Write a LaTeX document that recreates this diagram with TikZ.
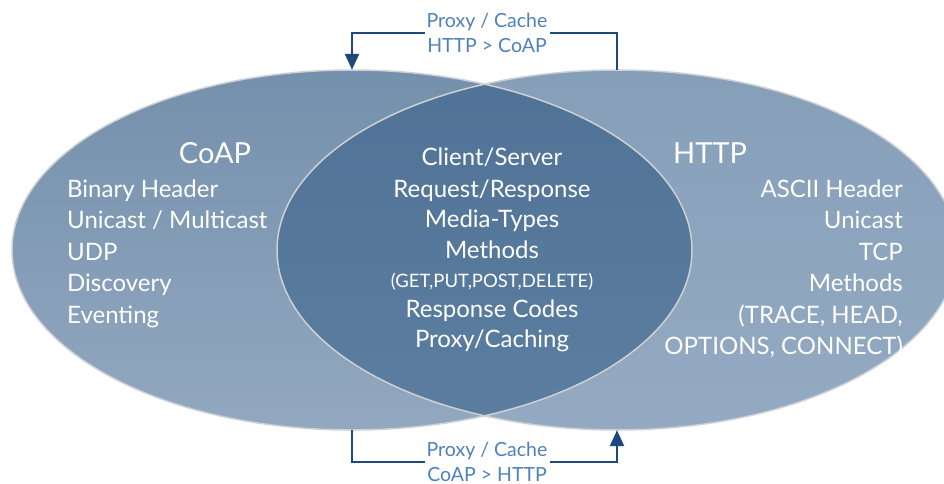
\documentclass[tikz,border=0pt]{standalone}
\usepackage{fontspec}
\setmainfont{Lato}
\usetikzlibrary{shapes.geometric,arrows.meta}

\definecolor{coapfill}{RGB}{117,144,172}
\definecolor{coaplow}{RGB}{146,168,192}
\definecolor{httpfill}{RGB}{134,159,185}
\definecolor{httplow}{RGB}{148,170,194}
\definecolor{lensfill}{RGB}{80,114,150}
\definecolor{lenslow}{RGB}{92,126,160}
\definecolor{rim}{RGB}{205,208,212}
\definecolor{linkblue}{RGB}{31,73,125}
\definecolor{cachetext}{RGB}{79,129,189}

\tikzset{
  venn/.style={ellipse, minimum width=680pt, minimum height=360pt, inner sep=0pt},
  body/.style={text=white, inner sep=1pt, font=\fontsize{24}{28}\selectfont},
  heading/.style={text=white, font=\fontsize{29}{32}\selectfont},
  small/.style={text=white, inner sep=1pt, font=\fontsize{18.5}{22}\selectfont},
  cache/.style={text=cachetext, fill=white, align=center, inner sep=2pt,
    font=\fontsize{19.5}{25}\selectfont},
  link/.style={draw=linkblue, line width=2.5pt},
}

\begin{document}
\begin{tikzpicture}[x=1pt,y=-1pt]
    \useasboundingbox (0,0) rectangle (944,484);
    \clip (0,0) rectangle (944,484);

    %% the two sets
    \node[venn, top color=coapfill, bottom color=coaplow] (coap) at (352,250) {};
    \node[venn, top color=httpfill, bottom color=httplow] (http) at (617,250) {};

    %% the overlap
    \begin{scope}
      \clip (352,250) ellipse [x radius=340pt, y radius=180pt];
      \shade[top color=lensfill, bottom color=lenslow]
        (617,250) ellipse [x radius=340pt, y radius=180pt];
    \end{scope}
    \draw[rim, line width=1.5pt] (352,250) ellipse [x radius=340pt, y radius=180pt]
      (617,250) ellipse [x radius=340pt, y radius=180pt];

    %% CoAP side
    \node[heading, anchor=base] (coaptitle) at (215,163) {CoAP};
    \foreach \t [count=\i] in {Binary Header, Unicast / Multicast, UDP, Discovery, Eventing}{
      \node[body, anchor=base west] (coap\i) at (66,{165.5+31.5*\i}) {\t};}

    %% HTTP side
    \node[heading, anchor=base] (httptitle) at (710,163) {HTTP};
    \foreach \t [count=\i] in {ASCII Header, Unicast, TCP, Methods, {(TRACE, HEAD,}, {OPTIONS, CONNECT)}}{
      \node[body, anchor=base east] (http\i) at (904,{165.5+31.5*\i}) {\t};}

    %% common part
    \node[body, anchor=base] (both1) at (492,165) {Client/Server};
    \node[body, anchor=base] (both2) at (492,197) {Request/Response};
    \node[body, anchor=base] (both3) at (492,227) {Media-Types};
    \node[body, anchor=base] (both4) at (492,258) {Methods};
    \node[small, anchor=base] (both5) at (492,287) {(GET,PUT,POST,DELETE)};
    \node[body, anchor=base] (both6) at (492,317) {Response Codes};
    \node[body, anchor=base] (both7) at (492,347) {Proxy/Caching};

    %% proxies
    \node[cache] (tocoap) at (487,33) {Proxy / Cache\\HTTP > CoAP};
    \node[cache] (tohttp) at (487,462) {Proxy / Cache\\CoAP > HTTP};
    \draw[link] (http.north) |- (tocoap.east);
    \draw[link, -{Triangle[length=16pt, width=14pt]}] (tocoap.west) -| (coap.north);
    \draw[link] (coap.south) |- (tohttp.west);
    \draw[link, -{Triangle[length=16pt, width=14pt]}] (tohttp.east) -| (http.south);
\end{tikzpicture}
\end{document}
